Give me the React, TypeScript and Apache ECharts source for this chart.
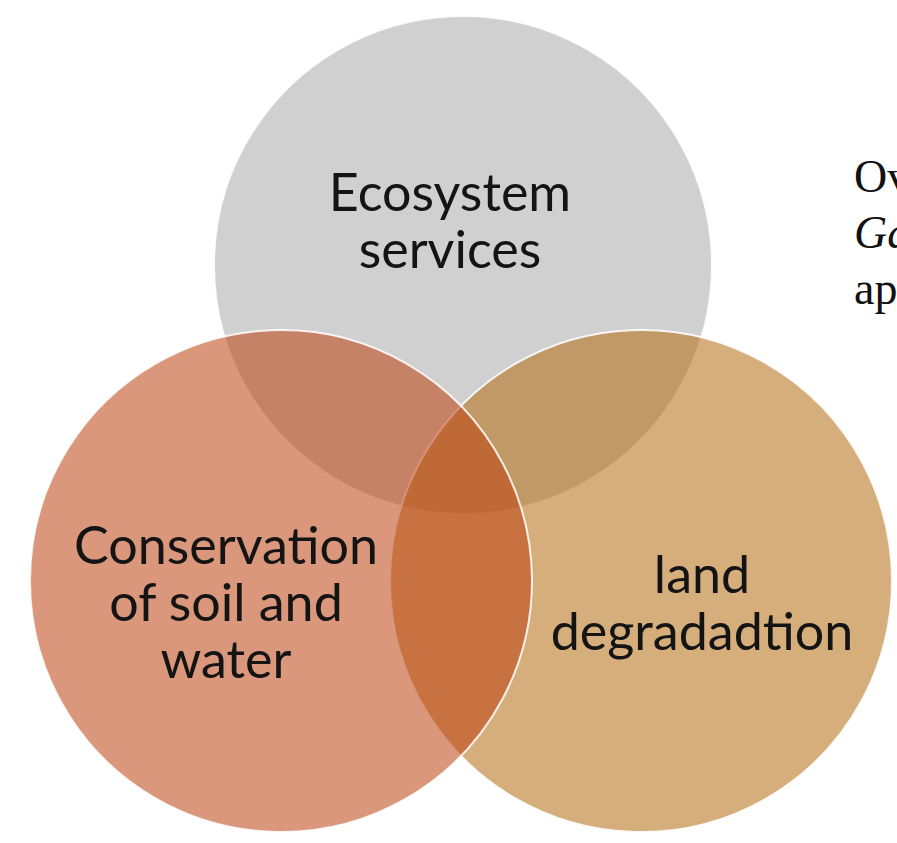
import React, { useEffect, useRef } from "react";
import * as echarts from "echarts";

// Venn circles, listed in drawing order (data units = chart coordinate space)
const circleNames = ["Ecosystem services", "land degradadtion", "Conservation of soil and water"];
const circleLabels = ["Ecosystem\nservices", "land\ndegradadtion", "Conservation\nof soil and\nwater"];
const centerX = [463, 641, 281];
const centerY = [265, 581, 581];
const radius = [249, 251, 251];
const labelX = [450, 702, 226];
const labelY = [219, 601, 601];
const sideText = ["Ov", "Ga", "ap"];

const fills = [
  "rgba(169,169,171,0.55)",
  "rgba(179,108,16,0.55)",
  "rgba(188,66,14,0.55)",
];

export default function App() {
  const ref = useRef<HTMLDivElement>(null);
  useEffect(() => {
    if (!ref.current) return;
    const chart = echarts.init(ref.current, undefined, { renderer: "svg" });
    const circleData = circleNames.map((n, i) => ({
      name: n,
      value: [centerX[i], centerY[i], radius[i]],
    }));
    const labelData = circleLabels.map((t, i) => ({
      name: circleNames[i],
      value: [labelX[i], labelY[i]],
    }));
    chart.setOption({
      animation: false,
      backgroundColor: "#ffffff",
      grid: { left: 0, right: 0, top: 0, bottom: 0 },
      xAxis: { type: "value", min: 0, max: 897, show: false },
      yAxis: { type: "value", min: 0, max: 843, inverse: true, show: false },
      series: [
        {
          type: "custom",
          z: 1,
          data: circleData,
          renderItem: (params: any, api: any) => {
            const c = api.coord([api.value(0), api.value(1)]);
            const r = api.size([api.value(2), 0])[0];
            return {
              type: "circle",
              shape: { cx: c[0], cy: c[1], r },
              style: {
                fill: fills[params.dataIndex],
                stroke: "rgba(255,255,255,0.85)",
                lineWidth: 2,
              },
            };
          },
        },
        {
          type: "custom",
          z: 5,
          data: labelData,
          renderItem: (params: any, api: any) => {
            const c = api.coord([api.value(0), api.value(1)]);
            return {
              type: "text",
              style: {
                text: circleLabels[params.dataIndex],
                x: c[0],
                y: c[1],
                align: "center",
                verticalAlign: "middle",
                fontFamily: "Lato",
                fontSize: 52,
                lineHeight: 57,
                fill: "#141414",
              },
            };
          },
        },
      ],
      graphic: sideText.map((t, i) => ({
        type: "text",
        left: 854,
        top: 177 + i * 56 - 24,
        style: {
          text: t,
          fontFamily: "Liberation Serif",
          fontStyle: i === 1 ? "italic" : "normal",
          fontSize: 46,
          fill: "#111",
        },
      })),
    });
    return () => chart.dispose();
  }, []);
  return (
    <div
      ref={ref}
      style={{ position: "absolute", left: 0, top: 0, width: 897, height: 843 }}
    />
  );
}
